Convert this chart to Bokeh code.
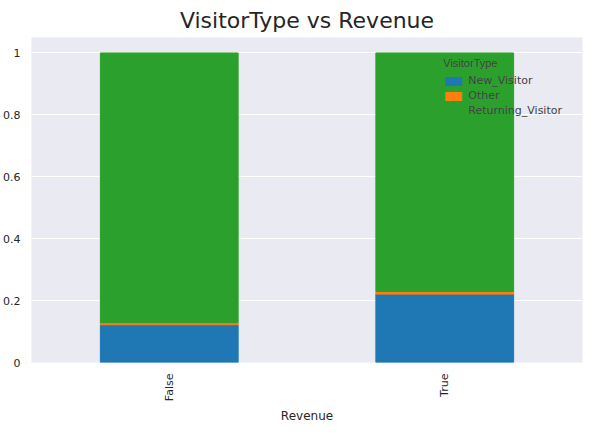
from bokeh.plotting import figure
from bokeh.embed import file_html
from bokeh.resources import INLINE
from bokeh.models import ColumnDataSource, Range1d
import math

revenue = ["False", "True"]
new_visitor = [0.122, 0.221]
other = [0.0066, 0.0084]
returning_visitor = [0.8714, 0.7706]
series = ["New_Visitor", "Other", "Returning_Visitor"]
colors = ["#1f77b4", "#ff7f0e", "#2ca02c"]

src = ColumnDataSource(dict(revenue=revenue, New_Visitor=new_visitor,
                            Other=other, Returning_Visitor=returning_visitor))

p = figure(x_range=revenue, y_range=Range1d(0, 1.05), width=587, height=426,
           output_backend="svg", toolbar_location=None,
           title="VisitorType vs Revenue", x_axis_label="Revenue")
p.vbar_stack(series, x="revenue", width=0.5, color=colors, source=src,
             legend_label=series)

p.title.text_font = "DejaVu Sans"
p.title.text_font_size = "22px"
p.title.text_font_style = "normal"
p.title.align = "center"
p.title.text_color = "#262626"

p.background_fill_color = "#eaeaf2"
p.border_fill_color = "white"
p.outline_line_color = None
p.grid.grid_line_color = "white"
p.grid.grid_line_width = 1.2
p.xgrid.grid_line_color = None
p.axis.axis_line_color = None
p.axis.major_tick_line_color = None
p.axis.minor_tick_line_color = None
p.axis.major_label_text_font = "DejaVu Sans"
p.axis.major_label_text_font_size = "11px"
p.axis.major_label_text_color = "#262626"
p.xaxis.major_label_orientation = math.pi / 2
p.xaxis.axis_label_text_font = "DejaVu Sans"
p.xaxis.axis_label_text_font_style = "normal"
p.xaxis.axis_label_text_font_size = "12px"
p.xaxis.axis_label_text_color = "#262626"
p.yaxis.ticker = [0, 0.2, 0.4, 0.6, 0.8, 1.0]
p.yaxis.formatter.use_scientific = False
p.x_range.range_padding = 0

p.legend.title = "VisitorType"
p.legend.title_text_font_style = "normal"
p.legend.title_text_font_size = "11px"
p.legend.label_text_font_size = "11px"
p.legend.label_text_font = "DejaVu Sans"
p.legend.location = "top_right"
p.legend.background_fill_alpha = 0
p.legend.border_line_alpha = 0
p.legend.label_height = 12
p.legend.glyph_height = 10
p.legend.spacing = 2
p.legend.items = list(reversed(p.legend.items)) if False else p.legend.items

open("out.html", "w").write(file_html(p, INLINE))
